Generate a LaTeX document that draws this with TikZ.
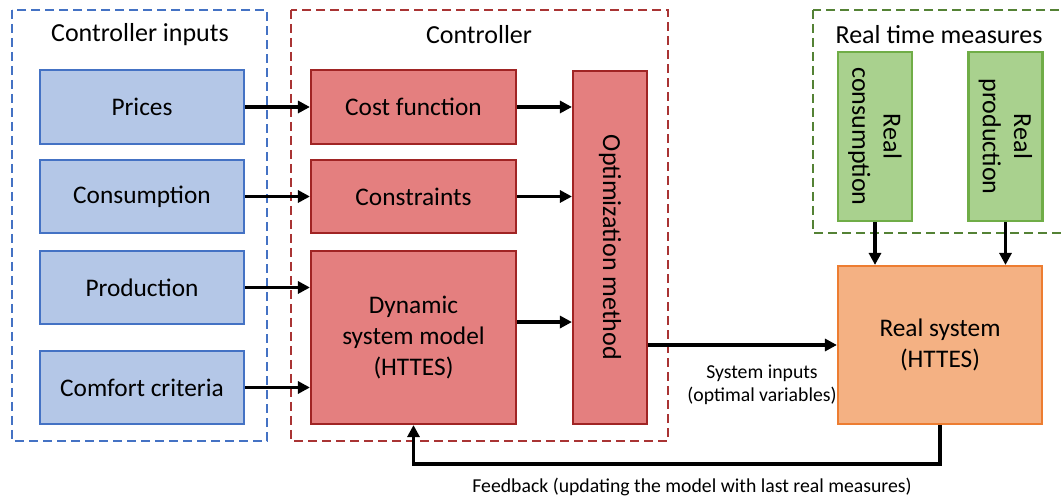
\documentclass[tikz,border=0pt]{standalone}
\usepackage{fontspec}
\setmainfont{Carlito}
\usetikzlibrary{arrows.meta}
\definecolor{bfill}{HTML}{B4C7E7}
\definecolor{bline}{HTML}{4472C4}
\definecolor{rfill}{HTML}{E47F7F}
\definecolor{rline}{HTML}{A02424}
\definecolor{rdash}{HTML}{A93434}
\definecolor{gfill}{HTML}{A9D18E}
\definecolor{gline}{HTML}{70AD47}
\definecolor{gdash}{HTML}{548235}
\definecolor{ofill}{HTML}{F4B183}
\definecolor{oline}{HTML}{ED7D31}
\tikzset{
  box/.style={draw, line width=1.6pt, inner sep=0pt, align=center,
    font=\fontsize{19}{23.5}\selectfont},
  bluebox/.style={box, fill=bfill, draw=bline, minimum width=153pt, minimum height=55pt},
  redbox/.style={box, fill=rfill, draw=rline},
  greenbox/.style={box, fill=gfill, draw=gline, minimum width=55.5pt, minimum height=126.75pt},
  orangebox/.style={box, fill=ofill, draw=oline},
  group/.style={line width=1.6pt, dash pattern=on 6.5pt off 4pt},
  title/.style={font=\fontsize{19.5}{23.5}\selectfont},
  small/.style={font=\fontsize{14.8}{17.5}\selectfont, align=center},
  arr/.style={line width=2.4pt, -{Triangle[length=9pt,width=9pt]}}
}
\begin{document}
\begin{tikzpicture}[x=0.75pt,y=-0.75pt]
\useasboundingbox (0,0) rectangle (1063,498);
% groups
\draw[group, draw=bline] (12,10) rectangle (267,441);
\draw[group, draw=rdash] (291,10) rectangle (668,441);
\draw[group, draw=gdash] (813,10) rectangle (1070,233);
\node[title] (tin) at (140,35) {Controller inputs};
\node[title] (tctl) at (479,35) {Controller};
\node[title] (trt) at (939,35) {Real time measures};
% inputs
\node[bluebox] (pr) at (142,107) {Prices};
\node[bluebox] (co) at (142,196.5) {Consumption};
\node[bluebox] (pd) at (142,287.5) {Production};
\node[bluebox] (cc) at (142,387.5) {Comfort criteria};
% controller
\node[redbox, minimum width=153.75pt, minimum height=55.5pt] (cf) at (413.5,107) {Cost function};
\node[redbox, minimum width=153.75pt, minimum height=55pt] (cs) at (413.5,196.5) {Constraints};
\node[redbox, minimum width=153.75pt, minimum height=129.75pt] (dy) at (413.5,337.5) {Dynamic\\system model\\(HTTES)};
\node[redbox, minimum width=55.5pt, minimum height=264.75pt] (om) at (610,247.5) {};
\node[rotate=-90, font=\fontsize{19.5}{23.5}\selectfont] (omt) at (om.center) {Optimization method};
% real time measures
\node[greenbox] (rc) at (875,136.5) {};
\node[rotate=-90, align=center, font=\fontsize{19.5}{23.5}\selectfont] (rct) at (rc.center) {Real\\consumption};
\node[greenbox] (rp) at (1005.5,136.5) {};
\node[rotate=-90, align=center, font=\fontsize{19.5}{23.5}\selectfont] (rpt) at (rp.center) {Real\\production};
% real system
\node[orangebox, minimum width=153pt, minimum height=118.5pt] (rs) at (940,345) {Real system\\(HTTES)};
% connectors
\draw[arr] (pr.east) -- (pr.east -| cf.west);
\draw[arr] (co.east) -- (co.east -| cs.west);
\draw[arr] (pd.east) -- (pd.east -| dy.west);
\draw[arr] (cc.east) -- (cc.east -| dy.west);
\draw[arr] (cf.east) -- (cf.east -| om.west);
\draw[arr] (cs.east) -- (cs.east -| om.west);
\draw[arr] ([yshift=11.6pt]dy.east) -- ([yshift=11.6pt]dy.east -| om.west);
\draw[arr] (om.east |- rs.west) -- (rs.west);
\draw[arr] (rc.south) -- (rc.south |- rs.north);
\draw[arr] (rp.south) -- (rp.south |- rs.north);
\coordinate (fb) at (940,464);
\draw[arr] (rs.south) -- (fb) -| (dy.south);
% labels
\node[small] (si) at (762,384.5) {System inputs\\(optimal variables)};
\node[small] (fbl) at (692,487) {Feedback (updating the model with last real measures)};
\end{tikzpicture}
\end{document}
